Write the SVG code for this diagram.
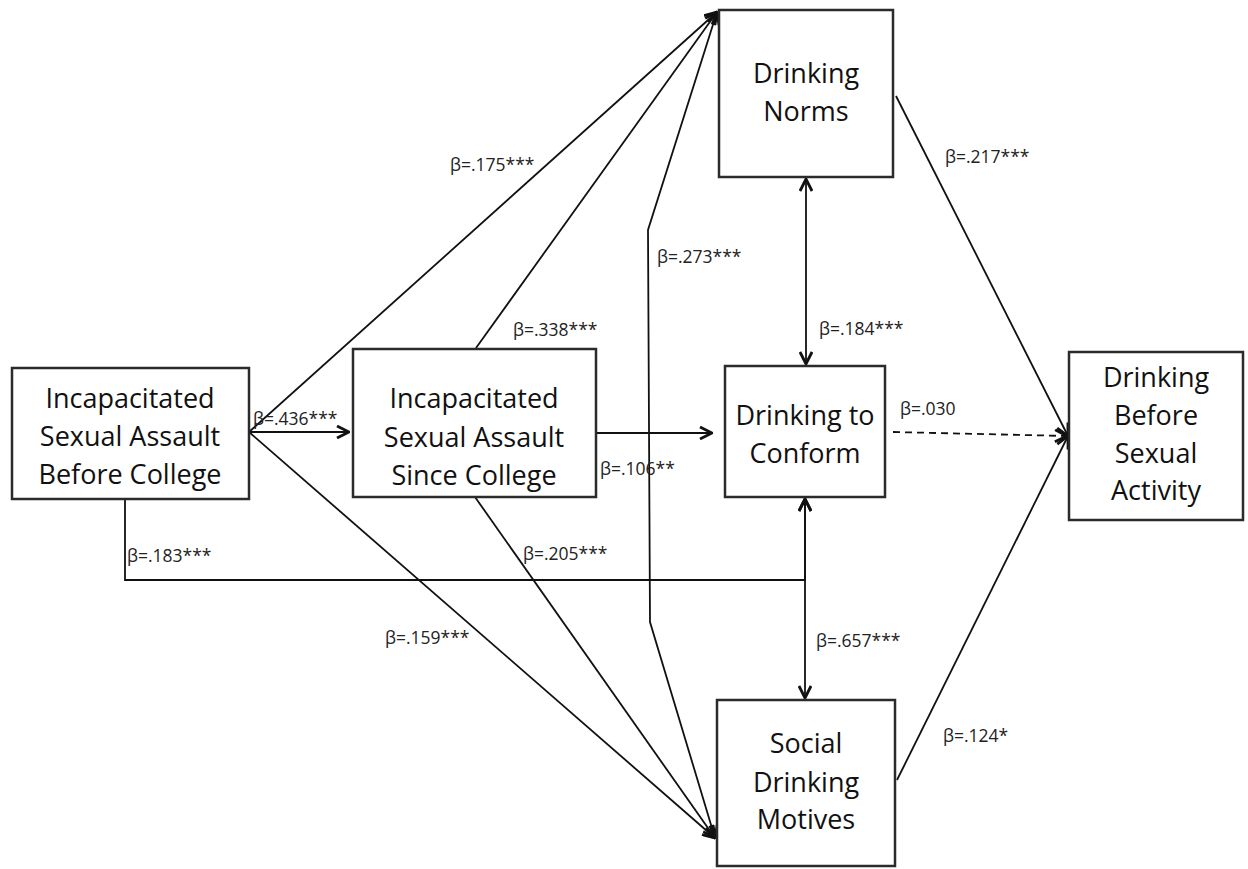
<svg xmlns="http://www.w3.org/2000/svg" width="1248" height="869" viewBox="0 0 1248 869">
<style>
.box{fill:#fff;stroke:#2b2b2b;stroke-width:2.5}
.nt{font-family:"Open Sans","Liberation Sans",sans-serif;font-size:27px;fill:#111;text-anchor:middle}
.lb{font-family:"Open Sans","Liberation Sans",sans-serif;font-size:17.5px;fill:#222}
.c{fill:none;stroke:#111;stroke-width:1.8}
.d{stroke-dasharray:7 5}
</style>
<defs>
<marker id="ah" markerUnits="userSpaceOnUse" viewBox="0 0 14 14" refX="13" refY="7" markerWidth="14" markerHeight="14" orient="auto-start-reverse">
<path d="M1,1 L13,7 L1,13" fill="none" stroke="#111" stroke-width="2.8" stroke-linejoin="miter"/>
</marker>
</defs>
<rect width="1248" height="869" fill="#fff"/>
<g id="connectors">
<line class="c" x1="249" y1="432" x2="349" y2="432" marker-end="url(#ah)"/>
<line class="c" x1="249" y1="432" x2="717" y2="12" marker-end="url(#ah)"/>
<line class="c" x1="249" y1="432" x2="715" y2="838" marker-end="url(#ah)"/>
<line class="c" x1="476" y1="348" x2="717" y2="12" marker-end="url(#ah)"/>
<line class="c" x1="597" y1="433" x2="712" y2="433" marker-end="url(#ah)"/>
<line class="c" x1="475" y1="497" x2="715" y2="838" marker-end="url(#ah)"/>
<polyline class="c" points="717,12 648,230 650,622 715,838" marker-start="url(#ah)" marker-end="url(#ah)"/>
<polyline class="c" points="125,500 125,580 805,580 805,499" marker-end="url(#ah)"/>
<line class="c" x1="805" y1="499" x2="805" y2="698" marker-start="url(#ah)" marker-end="url(#ah)"/>
<line class="c" x1="806" y1="179" x2="806" y2="364" marker-start="url(#ah)" marker-end="url(#ah)"/>
<line class="c" x1="896" y1="96" x2="1068" y2="436" marker-end="url(#ah)"/>
<line class="c" x1="897" y1="780" x2="1068" y2="436" marker-end="url(#ah)"/>
<line class="c d" x1="893" y1="432" x2="1067" y2="436" marker-end="url(#ah)"/>
</g>
<g id="labels">
<text class="lb" x="253" y="425">β=.436***</text>
<text class="lb" x="450" y="171">β=.175***</text>
<text class="lb" x="513" y="336">β=.338***</text>
<text class="lb" x="657" y="263">β=.273***</text>
<text class="lb" x="819" y="335">β=.184***</text>
<text class="lb" x="945" y="163">β=.217***</text>
<text class="lb" x="900" y="415">β=.030</text>
<text class="lb" x="600" y="475">β=.106**</text>
<text class="lb" x="127" y="562">β=.183***</text>
<text class="lb" x="523" y="560">β=.205***</text>
<text class="lb" x="385" y="644">β=.159***</text>
<text class="lb" x="816" y="647">β=.657***</text>
<text class="lb" x="943" y="742">β=.124*</text>
</g>
<g id="n1">
<rect class="box" x="12" y="368" width="237" height="131"/>
<text class="nt" x="130" y="408">Incapacitated</text>
<text class="nt" x="130" y="446">Sexual Assault</text>
<text class="nt" x="130" y="484">Before College</text>
</g>
<g id="n2">
<rect class="box" x="353" y="349" width="243" height="148"/>
<text class="nt" x="474" y="408">Incapacitated</text>
<text class="nt" x="474" y="447">Sexual Assault</text>
<text class="nt" x="474" y="485">Since College</text>
</g>
<g id="n3">
<rect class="box" x="719" y="10" width="174" height="167"/>
<text class="nt" x="806" y="83">Drinking</text>
<text class="nt" x="806" y="121">Norms</text>
</g>
<g id="n4">
<rect class="box" x="725" y="366" width="160" height="131"/>
<text class="nt" x="805" y="425">Drinking to</text>
<text class="nt" x="805" y="463">Conform</text>
</g>
<g id="n5">
<rect class="box" x="717" y="700" width="178" height="166"/>
<text class="nt" x="806" y="753">Social</text>
<text class="nt" x="806" y="792">Drinking</text>
<text class="nt" x="806" y="829">Motives</text>
</g>
<g id="n6">
<rect class="box" x="1069" y="352" width="174" height="168"/>
<text class="nt" x="1156" y="387">Drinking</text>
<text class="nt" x="1156" y="425">Before</text>
<text class="nt" x="1156" y="463">Sexual</text>
<text class="nt" x="1156" y="500">Activity</text>
</g>
</svg>
